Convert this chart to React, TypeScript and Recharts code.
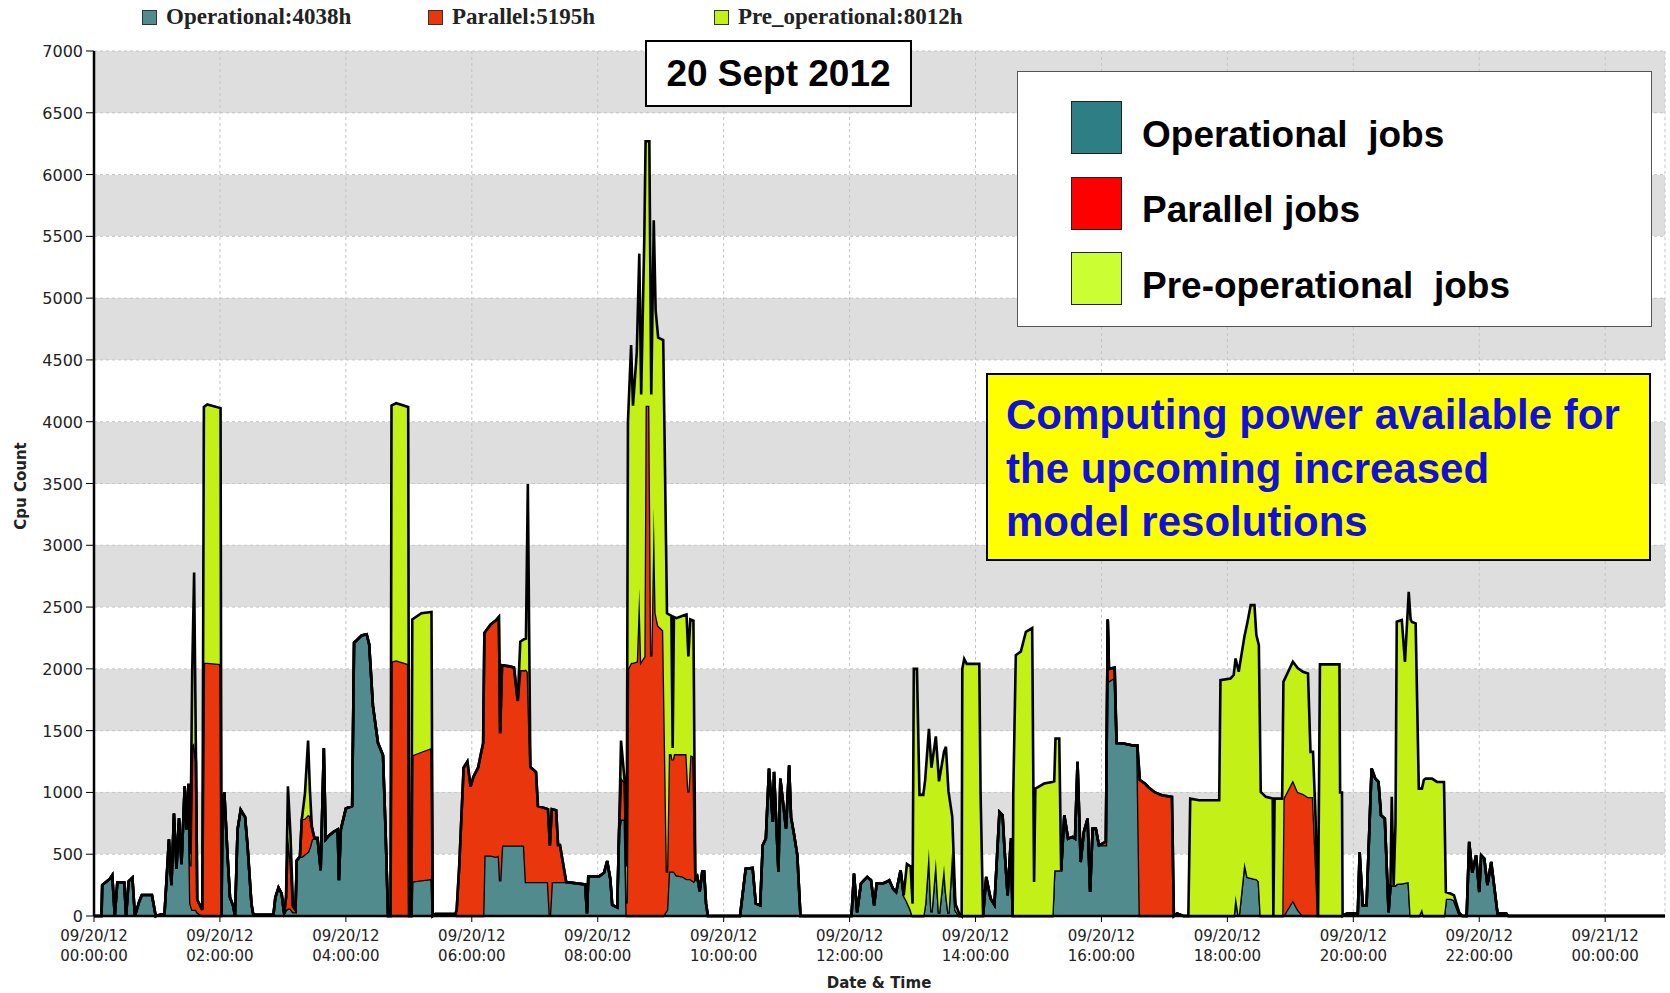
import React from 'react';
import { AreaChart, Area, XAxis, YAxis, CartesianGrid } from 'recharts';

// time of day in hours, one entry per sample
const hours = [
  0, 0.12, 0.13, 0.25, 0.29, 0.33, 0.37, 0.48, 0.51, 0.55, 0.61, 0.65, 0.72, 0.76, 0.92, 0.98,
  1.12, 1.19, 1.23, 1.27, 1.31, 1.35, 1.39, 1.44, 1.47, 1.5, 1.53, 1.56, 1.59, 1.62, 1.64, 1.72,
  1.745, 1.8, 2.01, 2.025, 2.04, 2.07, 2.12, 2.16, 2.21, 2.24, 2.28, 2.33, 2.4, 2.44, 2.5, 2.53, 2.85, 2.88, 2.93, 2.98, 3.02,
  3.05, 3.08, 3.12, 3.16, 3.2, 3.22, 3.27, 3.3, 3.35, 3.4, 3.43, 3.46, 3.5,
  3.55, 3.6, 3.65, 3.68, 3.73, 3.8, 3.87, 3.89, 3.92, 4, 4.1, 4.13, 4.25, 4.33, 4.37, 4.43, 4.51, 4.59, 4.63, 4.67,
  4.71, 4.725, 4.8, 4.99, 5.005, 5.04, 5.055, 5.2, 5.36, 5.38, 5.42, 5.74,
  5.76, 5.8, 5.87, 5.93, 5.98, 6.03, 6.1, 6.18, 6.2, 6.3, 6.38, 6.43, 6.45, 6.48, 6.6, 6.67, 6.73,
  6.77, 6.83, 6.86, 6.89, 6.93, 7.02, 7.05, 7.21, 7.24, 7.27, 7.34, 7.37, 7.4, 7.5,
  7.8, 7.83, 7.85, 8.02, 8.1, 8.15, 8.2, 8.23, 8.31, 8.34, 8.37, 8.43, 8.46,
  8.48, 8.53, 8.56, 8.62, 8.66, 8.69, 8.74, 8.76, 8.82, 8.85, 8.89, 8.92, 8.96, 9.04,
  9.1, 9.13, 9.17, 9.19, 9.21, 9.25, 9.35, 9.41, 9.44, 9.47, 9.52, 9.55, 9.58, 9.62, 9.66, 9.69, 9.72, 9.75,
  10.26, 10.35, 10.46, 10.51, 10.58, 10.62, 10.67, 10.72, 10.78, 10.8, 10.87, 10.9, 10.99, 11.04, 11.07, 11.12, 11.17, 11.22,
  12.03, 12.07, 12.12, 12.18, 12.23, 12.28, 12.34, 12.39, 12.43, 12.52, 12.58, 12.63, 12.69, 12.74, 12.81, 12.86,
  12.91, 12.97, 13, 13.02, 13.07, 13.11, 13.17, 13.2, 13.26, 13.3, 13.37, 13.42, 13.5, 13.53, 13.57, 13.63, 13.68, 13.74, 13.78,
  13.79, 13.82, 13.86, 14.06, 14.08, 14.12, 14.17, 14.24, 14.3, 14.38, 14.43, 14.46, 14.51, 14.56, 14.59,
  14.6, 14.64, 14.72, 14.8, 14.9, 14.93, 14.95, 15.09, 15.22, 15.25, 15.27, 15.33, 15.36,
  15.41, 15.47, 15.54, 15.58, 15.62, 15.67, 15.72, 15.78, 15.82, 15.86, 15.91, 15.96, 16.07, 16.1, 16.12, 16.21, 16.24, 16.35, 16.48, 16.57,
  16.61, 16.69, 16.75, 16.85, 16.96, 17.12, 17.15, 17.2, 17.3, 17.38,
  17.41, 17.55, 17.87, 17.89, 18.05, 18.1, 18.13, 18.18, 18.27, 18.32, 18.37, 18.43, 18.46, 18.5, 18.53, 18.61, 18.72, 18.73, 18.75, 18.87,
  18.89, 19.04, 19.12, 19.2, 19.28, 19.32, 19.36, 19.4, 19.44, 19.47, 19.78, 19.79, 19.82, 19.83,
  19.9, 20.05, 20.07, 20.1, 20.15, 20.21, 20.29, 20.35, 20.4, 20.44, 20.5, 20.56,
  20.59, 20.61, 20.64, 20.67, 20.69, 20.77, 20.82, 20.88, 20.91, 20.93, 20.99, 21.04, 21.09, 21.12, 21.15, 21.25, 21.33, 21.44, 21.47, 21.55, 21.6, 21.68, 21.73,
  21.8, 21.84, 21.89, 21.95, 22, 22.03, 22.08, 22.13, 22.19, 22.29, 22.43, 22.46, 24.95,
];

const operational = [
  0, 0, 250, 300, 330, 0, 270, 270, 0, 280, 310, 0, 120, 170, 170, 0,
  20, 620, 250, 830, 380, 790, 420, 1050, 700, 1070, 100, 50, 50, 50, 30, 0,
  0, 0, 0, 0, 900, 1000, 500, 150, 80, 0, 700, 860, 800, 560, 100, 10, 10, 150, 230, 180, 20,
  50, 60, 60, 30, 30, 450, 480, 480, 500, 520, 560, 620, 630,
  630, 370, 1360, 620, 650, 680, 700, 290, 700, 870, 890, 2210, 2270, 2280, 2200, 1700, 1400, 1300, 700, 0,
  0, 0, 0, 0, 0, 0, 280, 290, 300, 0, 15, 15,
  0, 0, 0, 0, 0, 0, 0, 0, 490, 490, 480, 490, 280, 570, 570, 570, 570,
  570, 570, 275, 275, 275, 275, 275, 275, 0, 275, 275, 275, 275, 275,
  255, 20, 320, 320, 350, 445, 300, 90, 70, 700, 780, 780, 0,
  0, 0, 0, 0, 0, 0, 0, 0, 0, 0, 0, 0, 0, 0,
  50, 360, 360, 360, 360, 330, 320, 300, 300, 300, 280, 300, 320, 200, 360, 360, 100, 0,
  0, 383, 389, 100, 86, 572, 626, 1193, 761, 1166, 356, 1112, 707, 1220, 800, 653, 491, 0,
  0, 343, 30, 262, 290, 316, 290, 86, 262, 262, 275, 289, 221, 194, 370, 167,
  120, 50, 0, 0, 0, 0, 0, 100, 545, 30, 464, 20, 410, 200, 20, 545, 50, 0, 0,
  0, 0, 0, 0, 0, 0, 316, 140, 90, 842, 815, 545, 167, 600, 0,
  0, 0, 0, 0, 0, 0, 0, 0, 0, 370, 370, 370, 370,
  815, 626, 640, 626, 1247, 437, 680, 788, 194, 707, 707, 572, 572, 2400, 1900, 1930, 1400, 1396, 1382, 1380,
  0, 0, 0, 0, 0, 0, 0, 20, 0, 0,
  0, 0, 0, 0, 0, 0, 167, 0, 437, 316, 310, 302, 300, 280, 0, 0, 0, 0, 0, 0,
  0, 127, 50, 0, 0, 0, 0, 0, 0, 0, 0, 0, 0, 0,
  20, 20, 0, 518, 86, 86, 1193, 1112, 1085, 815, 788, 30,
  248, 248, 248, 248, 260, 265, 270, 275, 0, 0, 0, 0, 59, 0, 0, 0, 0, 0, 140, 140, 130, 20, 0,
  0, 600, 350, 491, 194, 491, 464, 250, 437, 20, 20, 0, 0,
];

const parallel = [
  0, 0, 0, 0, 0, 0, 0, 0, 0, 0, 0, 0, 0, 0, 0, 0,
  0, 0, 0, 0, 0, 0, 0, 0, 0, 0, 300, 1330, 1350, 1200, 100, 50,
  2050, 2050, 2040, 0, 0, 0, 0, 0, 0, 0, 0, 0, 0, 0, 0, 0, 0, 0, 0, 0, 0,
  100, 590, 400, 50, 20, 0, 0, 300, 290, 300, 250, 100, 0,
  0, 0, 0, 0, 0, 0, 0, 0, 0, 0, 0, 0, 0, 0, 0, 0, 0, 0, 0, 0,
  0, 2060, 2070, 2040, 0, 0, 1020, 1040, 1060, 0, 0, 0,
  50, 400, 1200, 1250, 1050, 1130, 1200, 1400, 1800, 1870, 1910, 1930, 1200, 1460, 1450, 1440, 1170,
  1420, 1420, 1720, 1700, 930, 890, 615, 590, 570, 590, 580, 300, 300, 0,
  0, 0, 0, 0, 0, 0, 0, 0, 0, 0, 340, 300, 100,
  2000, 2050, 2050, 2060, 2650, 2060, 2100, 4130, 4130, 2100, 3300, 2450, 2350, 2310,
  300, 950, 950, 900, 950, 980, 990, 1010, 700, 1000, 1010, 0, 0, 0, 0, 0, 0, 0,
  0, 0, 0, 0, 0, 0, 0, 0, 0, 0, 0, 0, 0, 0, 0, 0, 0, 0,
  0, 0, 0, 0, 0, 0, 0, 0, 0, 0, 0, 0, 0, 0, 0, 0,
  0, 0, 0, 0, 0, 0, 0, 0, 0, 0, 0, 0, 0, 0, 0, 0, 0, 0, 0,
  0, 0, 0, 0, 0, 0, 0, 0, 0, 0, 0, 0, 0, 0, 0,
  0, 0, 0, 0, 0, 0, 0, 0, 0, 0, 0, 0, 0,
  0, 0, 0, 0, 0, 0, 0, 0, 0, 0, 0, 0, 30, 0, 100, 80, 0, 0, 0, 0,
  1100, 1072, 1040, 1000, 977, 964, 0, 0, 0, 0,
  0, 0, 0, 0, 0, 0, 0, 0, 0, 0, 0, 0, 0, 0, 0, 0, 0, 0, 0, 0,
  950, 972, 954, 990, 964, 964, 964, 500, 0, 0, 0, 0, 0, 0,
  0, 0, 0, 0, 0, 0, 0, 0, 0, 0, 0, 0,
  0, 0, 0, 0, 0, 0, 0, 0, 0, 0, 0, 0, 0, 0, 0, 0, 0, 0, 0, 0, 0, 0, 0,
  0, 0, 0, 0, 0, 0, 0, 0, 0, 0, 0, 0, 0,
];

const preOperational = [
  0, 0, 0, 0, 0, 0, 0, 0, 0, 0, 0, 0, 0, 0, 0, 0,
  0, 0, 0, 0, 0, 0, 0, 0, 0, 0, 100, 600, 1380, 0, 0, 0,
  2070, 2090, 2070, 0, 0, 0, 0, 0, 0, 0, 0, 0, 0, 0, 0, 0, 0, 0, 0, 0, 0,
  0, 400, 200, 0, 0, 0, 0, 0, 200, 600, 200, 0, 0,
  0, 0, 0, 0, 0, 0, 0, 0, 0, 0, 0, 0, 0, 0, 0, 0, 0, 0, 0, 0,
  0, 2070, 2080, 2080, 0, 0, 1100, 1120, 1100, 0, 0, 0,
  0, 0, 0, 0, 0, 0, 0, 0, 0, 0, 0, 0, 0, 0, 0, 0, 0,
  230, 250, 250, 1520, 0, 0, 0, 0, 0, 0, 0, 0, 0, 0,
  0, 0, 0, 0, 0, 0, 0, 0, 0, 0, 300, 0, 300,
  2000, 2570, 2080, 2500, 2710, 2160, 3400, 2140, 2140, 2120, 2330, 2450, 2330, 2350,
  2100, 1130, 1120, 100, 1110, 1100, 1120, 1130, 1100, 1100, 1100, 0, 0, 0, 0, 0, 0, 0,
  0, 0, 0, 0, 0, 0, 0, 0, 0, 0, 0, 0, 0, 0, 0, 0, 0, 0,
  0, 0, 0, 0, 0, 0, 0, 0, 0, 0, 0, 0, 0, 0, 0, 0,
  300, 350, 100, 2000, 2000, 980, 980, 1000, 970, 1170, 990, 1070, 920, 1170, 990, 260, 50, 20, 0,
  2000, 2080, 2040, 2040, 1000, 0, 0, 0, 0, 0, 0, 0, 0, 30, 0,
  1000, 2110, 2140, 2300, 2330, 275, 1030, 1072, 1085, 720, 1066, 1066, 0,
  0, 0, 0, 0, 0, 0, 0, 0, 0, 0, 0, 0, 0, 0, 0, 0, 0, 0, 0, 0,
  0, 0, 0, 0, 0, 0, 0, 0, 0, 0,
  950, 937, 937, 1909, 1922, 1950, 1917, 1976, 1823, 2065, 2206, 2214, 1973, 1912, 1004, 964, 950, 0, 950, 950,
  945, 958, 1000, 986, 999, 364, 364, 300, 0, 2036, 2036, 1000, 1000, 0,
  0, 0, 0, 0, 0, 0, 0, 0, 0, 0, 0, 0,
  0, 716, 0, 500, 2121, 2130, 1787, 2349, 2400, 2380, 2368, 1031, 972, 1100, 1112, 1112, 1085, 1085, 54, 40, 37, 10, 0,
  0, 0, 0, 0, 0, 0, 0, 0, 0, 0, 0, 0, 0,
];

const xTicks = [0, 2, 4, 6, 8, 10, 12, 14, 16, 18, 20, 22, 24];
const xTickDates = ['09/20/12', '09/20/12', '09/20/12', '09/20/12', '09/20/12', '09/20/12', '09/20/12',
  '09/20/12', '09/20/12', '09/20/12', '09/20/12', '09/20/12', '09/21/12'];
const xTickTimes = ['00:00:00', '02:00:00', '04:00:00', '06:00:00', '08:00:00', '10:00:00', '12:00:00',
  '14:00:00', '16:00:00', '18:00:00', '20:00:00', '22:00:00', '00:00:00'];
const yTicks = [0, 500, 1000, 1500, 2000, 2500, 3000, 3500, 4000, 4500, 5000, 5500, 6000, 6500, 7000];

const seriesNames = ['Operational', 'Parallel', 'Pre_operational'];
const seriesHours = [4038, 5195, 8012];
const jobLabels = ['Operational  jobs', 'Parallel jobs', 'Pre-operational  jobs'];

const AREA_COLORS = ['#528b8e', '#e9360c', '#c3f016'];
const KEY_COLORS = ['#2e7f85', '#ff0000', '#ccff33'];
const LEGEND_X = [142, 428, 714];

const data = hours.map((t, i) => ({
  t,
  op: operational[i],
  par: parallel[i],
  pre: preOperational[i],
}));

function XTick(props: any) {
  const { x, y, payload } = props;
  const i = xTicks.indexOf(payload.value);
  const style = { fontFamily: 'DejaVu Sans', fontSize: 15, fill: '#222' };
  return (
    <g>
      <text x={x} y={y + 17} textAnchor="middle" {...style}>{xTickDates[i]}</text>
      <text x={x} y={y + 37} textAnchor="middle" {...style}>{xTickTimes[i]}</text>
    </g>
  );
}

function YTick(props: any) {
  const { x, y, payload } = props;
  return (
    <text x={x} y={y + 6} textAnchor="end" fontFamily="DejaVu Sans" fontSize={16} fill="#222">
      {payload.value}
    </text>
  );
}

export default function App() {
  return (
    <div style={{ position: 'absolute', left: 0, top: 0, width: 1670, height: 993, background: '#fff' }}>
      <AreaChart width={1670} height={993} data={data} margin={{ top: 51, right: 5, bottom: 0, left: 0 }}>
        <CartesianGrid
          stroke="#c4c4c4"
          strokeDasharray="3 3"
          horizontalFill={['#dedede', '#ffffff']}
          fillOpacity={1}
        />
        <XAxis
          dataKey="t"
          type="number"
          domain={[0, 24.95]}
          ticks={xTicks}
          interval={0}
          allowDataOverflow
          height={77}
          axisLine={{ stroke: '#000', strokeWidth: 2.5 }}
          tickLine={{ stroke: '#000' }}
          tickSize={6}
          tick={<XTick />}
        />
        <YAxis
          type="number"
          domain={[0, 7000]}
          ticks={yTicks}
          interval={0}
          width={94}
          axisLine={{ stroke: '#000', strokeWidth: 2.5 }}
          tickLine={{ stroke: '#000' }}
          tickSize={8}
          tickMargin={3}
          tick={<YTick />}
        />
        <Area type="linear" dataKey="op" stackId="a" fill={AREA_COLORS[0]} fillOpacity={1} stroke="#000" strokeWidth={2.6} isAnimationActive={false} dot={false} activeDot={false} />
        <Area type="linear" dataKey="par" stackId="a" fill={AREA_COLORS[1]} fillOpacity={1} stroke="#000" strokeWidth={2.6} isAnimationActive={false} dot={false} activeDot={false} />
        <Area type="linear" dataKey="pre" stackId="a" fill={AREA_COLORS[2]} fillOpacity={1} stroke="#000" strokeWidth={2.6} isAnimationActive={false} dot={false} activeDot={false} />
      </AreaChart>

      {/* top legend */}
      {seriesNames.map((name, i) => (
        <div key={name} style={{ position: 'absolute', left: LEGEND_X[i], top: 5, height: 24, display: 'flex', alignItems: 'center' }}>
          <div style={{ width: 15, height: 15, background: AREA_COLORS[i], border: '1px solid #333', boxSizing: 'border-box' }} />
          <span style={{ marginLeft: 9, fontFamily: 'Liberation Serif', fontWeight: 'bold', fontSize: 23, color: '#222', whiteSpace: 'nowrap' }}>
            {name}:{seriesHours[i]}h
          </span>
        </div>
      ))}

      {/* axis titles */}
      <div style={{ position: 'absolute', left: 879, top: 983, transform: 'translate(-50%, -50%)', fontFamily: 'DejaVu Sans', fontWeight: 'bold', fontSize: 15, color: '#222', whiteSpace: 'nowrap' }}>
        Date &amp; Time
      </div>
      <div style={{ position: 'absolute', left: 21, top: 486, transform: 'translate(-50%, -50%) rotate(-90deg)', fontFamily: 'DejaVu Sans', fontWeight: 'bold', fontSize: 15, color: '#222', whiteSpace: 'nowrap' }}>
        Cpu Count
      </div>

      {/* date box */}
      <div style={{ position: 'absolute', left: 645, top: 40, width: 267, height: 67, boxSizing: 'border-box', border: '2px solid #000', background: '#fff', display: 'flex', alignItems: 'center', justifyContent: 'center', fontFamily: 'Liberation Sans', fontWeight: 'bold', fontSize: 37, color: '#000', whiteSpace: 'nowrap' }}>
        20 Sept 2012
      </div>

      {/* job legend box */}
      <div style={{ position: 'absolute', left: 1017, top: 71, width: 635, height: 256, boxSizing: 'border-box', border: '1px solid #555', background: '#fff' }}>
        {jobLabels.map((label, i) => (
          <div key={label} style={{ position: 'absolute', left: 53, top: 29 + i * 75.5, height: 53, display: 'flex', alignItems: 'center' }}>
            <div style={{ width: 51, height: 53, background: KEY_COLORS[i], border: '1px solid #222', boxSizing: 'border-box' }} />
            <span style={{ marginLeft: 20, position: 'relative', top: 7, fontFamily: 'Liberation Sans', fontWeight: 'bold', fontSize: 37, color: '#000', whiteSpace: 'pre' }}>
              {label}
            </span>
          </div>
        ))}
      </div>

      {/* note box */}
      <div style={{ position: 'absolute', left: 986, top: 373, width: 665, height: 188, boxSizing: 'border-box', border: '2px solid #000', background: '#ffff00', padding: '13px 0 0 18px', fontFamily: 'Liberation Sans', fontWeight: 'bold', fontSize: 42, lineHeight: '53.5px', color: '#1010d8' }}>
        Computing power available for<br />the upcoming increased<br />model resolutions
      </div>
    </div>
  );
}
